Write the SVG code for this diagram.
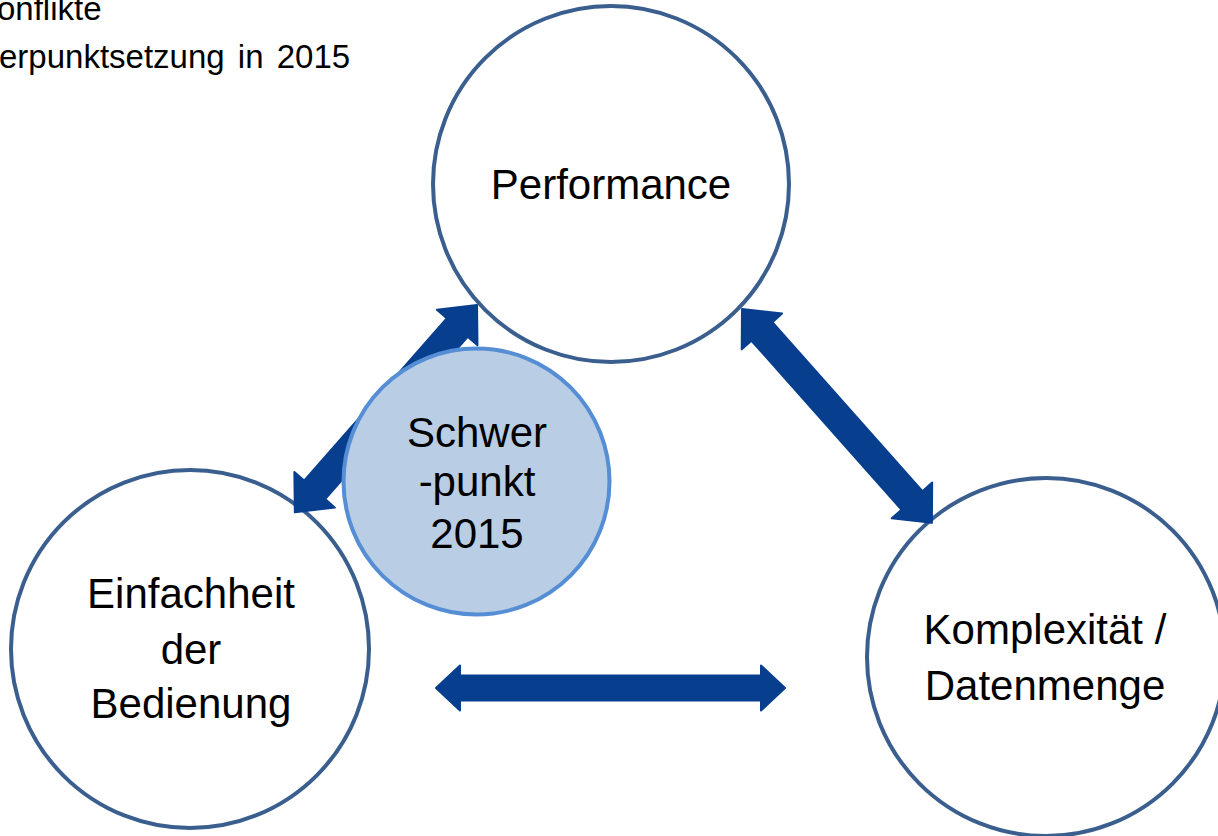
<svg xmlns="http://www.w3.org/2000/svg" width="1218" height="836" viewBox="0 0 1218 836">
<style>
.t{font-family:"Liberation Sans",Arial,sans-serif;fill:#000;text-anchor:middle;font-size:42px}
.hdr{font-family:"Liberation Sans",Arial,sans-serif;fill:#000;font-size:33px}
.c{fill:#fff;stroke:#3A5F8F;stroke-width:4}
.arr{fill:#073E8E;stroke:#073E8E;stroke-width:2;stroke-linejoin:round}
</style>
<g id="header">
<text class="hdr" x="-3" y="20">onflikte</text>
<text class="hdr" x="-1" y="68" word-spacing="4">erpunktsetzung in 2015</text>
</g>
<g id="performance"><circle class="c" cx="611" cy="184" r="178"/><text class="t" x="611" y="199">Performance</text></g>
<g id="einfachheit"><circle class="c" cx="190" cy="649" r="179"/><text class="t" x="191" y="608">Einfachheit</text><text class="t" x="191" y="664">der</text><text class="t" x="191" y="718">Bedienung</text></g>
<g id="komplexitaet"><circle class="c" cx="1046" cy="657" r="179"/><text class="t" x="1045" y="644">Komplexität /</text><text class="t" x="1045" y="700">Datenmenge</text></g>
<g id="connectors">
<path class="arr" transform="translate(436,688)" d="M0,0 L24,-22.5 L24,-12.5 L325,-12.5 L325,-22.5 L349,0 L325,22.5 L325,12.5 L24,12.5 L24,22.5 Z"/>
<path class="arr" transform="translate(742,309) rotate(48.4)" d="M0,0 L30,-27 L30,-14 L256,-14 L256,-27 L286,0 L256,27 L256,14 L30,14 L30,27 Z"/>
<path class="arr" transform="translate(477,305) rotate(131.3)" d="M0,0 L30,-27 L30,-14 L246,-14 L246,-27 L276,0 L246,27 L246,14 L30,14 L30,27 Z"/>
</g>
<g id="schwerpunkt"><circle cx="476.5" cy="481.5" r="133" fill="#B9CDE5" stroke="#558ED5" stroke-width="4"/><text class="t" x="477" y="447">Schwer</text><text class="t" x="477" y="496">-punkt</text><text class="t" x="477" y="548">2015</text></g>
</svg>
